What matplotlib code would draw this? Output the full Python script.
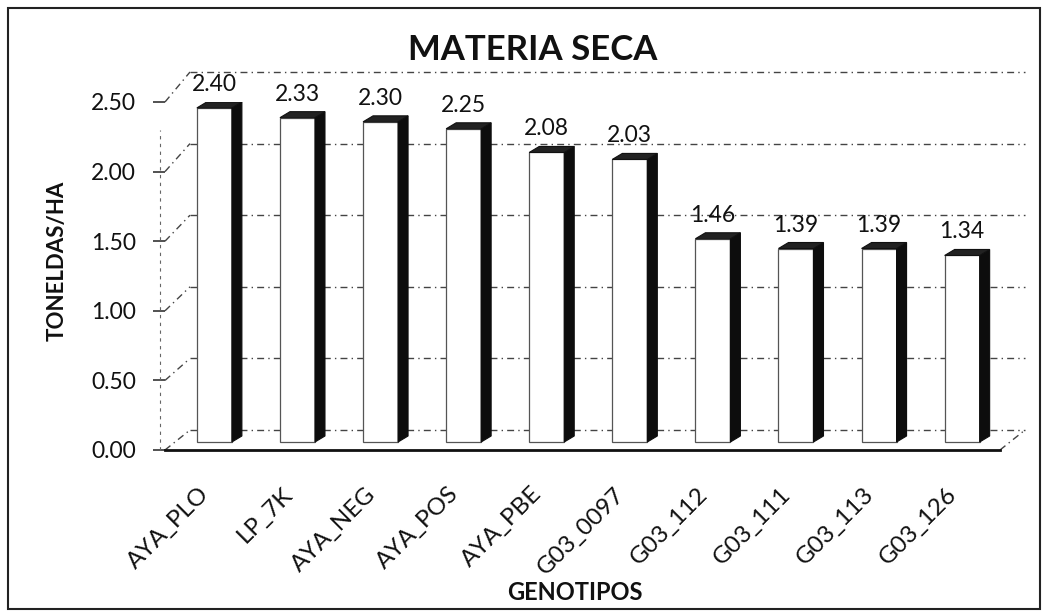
import matplotlib
matplotlib.use("Agg")
import matplotlib.pyplot as plt
from matplotlib.patches import Rectangle, Polygon
from matplotlib.transforms import offset_copy, ScaledTranslation

plt.rcParams['font.family'] = ['Lato', 'DejaVu Sans']

categories = ["AYA_PLO", "LP_7K", "AYA_NEG", "AYA_POS", "AYA_PBE",
              "G03_0097", "G03_112", "G03_111", "G03_113", "G03_126"]
values = [2.40, 2.33, 2.30, 2.25, 2.08, 2.03, 1.46, 1.39, 1.39, 1.34]
yticks = [0.0, 0.5, 1.0, 1.5, 2.0, 2.5]
title = "MATERIA SECA"
xlabel = "GENOTIPOS"
ylabel = "TONELDAS/HA"

W, H, DPI = 1046, 611, 100
fig = plt.figure(figsize=(W / DPI, H / DPI), dpi=DPI)

# axes box in pixels (front plane)
L, R, B, T = 165, 1000, 450, 102
ax = fig.add_axes([L / W, 1 - B / H, (R - L) / W, (B - T) / H])
XMIN, XMAX = -0.45, 9.6
YMIN, YMAX = 0.0, 2.5
ax.set_xlim(XMIN, XMAX)
ax.set_ylim(YMIN, YMAX)
xs = (R - L) / (XMAX - XMIN)   # px per x unit
ys = (B - T) / (YMAX - YMIN)   # px per y unit

for s in ax.spines.values():
    s.set_visible(False)
ax.patch.set_alpha(0)

grid_kw = dict(color="#444444", lw=1.0, linestyle=(0, (5, 3, 1, 3)))
WX = 25
def wall_dy(t):
    return 20 + 4 * t

# back wall gridlines and floor
for t in yticks:
    tr = offset_copy(ax.transData, fig=fig, x=WX, y=wall_dy(t), units='dots')
    ax.plot([XMIN, XMAX], [t, t], transform=tr, **grid_kw, clip_on=False)
# side wall diagonals
for t in yticks:
    ax.plot([XMIN, XMIN + WX / xs], [t, t + wall_dy(t) / ys], **grid_kw,
            clip_on=False)
# right floor diagonal
ax.plot([XMAX, XMAX + WX / xs], [0, wall_dy(0) / ys], **grid_kw, clip_on=False)
# left vertical edge
ax.plot([XMIN - 5 / xs] * 2, [0, YMAX - 0.2], color="#666666", lw=0.8,
        linestyle=(0, (3, 4)), clip_on=False)
# front floor line
ax.plot([XMIN, XMAX], [0, 0], color="#111111", lw=2.0, clip_on=False)

# bars (mid depth)
BX, BY = 12, 8
bw = 35 / xs
sdx, sdy = 10 / xs, 6 / ys
for i, v in enumerate(values):
    xl = i - bw / 2 + BX / xs
    xr = xl + bw
    yb = BY / ys
    yt = yb + v
    ax.add_patch(Rectangle((xl, yb), bw, v, facecolor="white",
                           edgecolor="#555555", lw=0.9, zorder=3))
    ax.add_patch(Polygon([(xr, yb), (xr + sdx, yb + sdy), (xr + sdx, yt + sdy),
                          (xr, yt)], closed=True, facecolor="#0d0d0d",
                         edgecolor="#0d0d0d", lw=0.8, zorder=3))
    ax.add_patch(Polygon([(xl, yt), (xl + sdx, yt + sdy), (xr + sdx, yt + sdy),
                          (xr, yt)], closed=True, facecolor="#222222",
                         edgecolor="#111111", lw=0.8, zorder=3))
    ax.text(i + BX / xs, yt + sdy, f"{v:.2f}", ha="center", va="bottom",
            fontsize=16.5, color="#111111", zorder=4,
            transform=offset_copy(ax.transData, fig=fig, x=0, y=7, units='dots'))

# ticks
ax.set_yticks(yticks)
ax.set_yticklabels([f"{t:.2f}" for t in yticks], fontsize=16.5, color="#111111")
ax.tick_params(axis='y', length=9, width=1.2, color="#333333", pad=12)
ax.set_xticks(range(len(categories)))
ax.set_xticklabels(categories, rotation=45, ha="right", va="top",
                   rotation_mode="anchor", fontsize=17.5, color="#111111")
ax.tick_params(axis='x', length=0, pad=24)
shift = ScaledTranslation(-4 / DPI, 0, fig.dpi_scale_trans)
for lab in ax.get_xticklabels():
    lab.set_transform(lab.get_transform() + shift)

fig.text(575 / W, 1 - 592 / H, xlabel, ha="center", va="center",
         fontsize=17, fontweight="bold", color="#111111")
fig.text(57 / W, 1 - 261 / H, ylabel, ha="center", va="center",
         rotation=90, fontsize=16, fontweight="bold", color="#111111")
fig.text(533 / W, 1 - 50 / H, title, ha="center", va="center",
         fontsize=25, fontweight="bold", color="#111111")

# figure border
fig.add_artist(Rectangle((8 / W, 2 / H), (W - 14) / W, (H - 10) / H,
                         transform=fig.transFigure, fill=False,
                         edgecolor="#222222", lw=1.5))

fig.savefig("out.png", dpi=DPI, facecolor="white")
